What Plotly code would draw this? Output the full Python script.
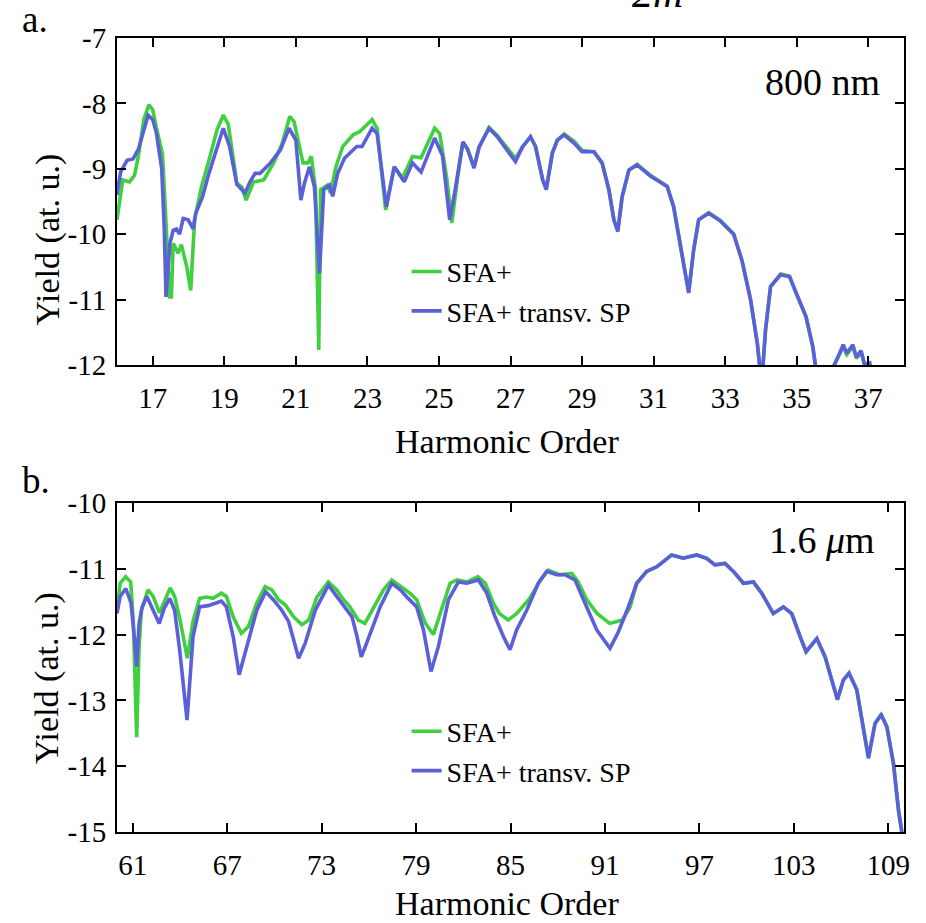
import plotly.graph_objects as go

# ---------------- Panel a: 800 nm ----------------
a_sfa_x = [16.0, 16.08, 16.16, 16.35, 16.49, 16.6, 16.75, 16.89, 17.0, 17.1, 17.27, 17.35, 17.42, 17.47,
           17.52, 17.57, 17.71, 17.8, 17.95, 18.06, 18.17, 18.36, 18.57, 18.8, 18.97, 19.11, 19.35, 19.49,
           19.61, 19.82, 20.1, 20.38, 20.62, 20.83, 20.95, 21.08, 21.2, 21.34, 21.43, 21.55, 21.64, 21.69,
           21.88, 21.97, 22.12, 22.31, 22.6, 22.79, 23.13, 23.27, 23.4, 23.51, 23.75, 23.98, 24.26, 24.5,
           24.88, 25.02, 25.21, 25.36, 25.53, 25.67, 25.8, 25.98, 26.12, 26.4, 26.63, 26.86, 27.14, 27.33,
           27.56, 27.7, 27.9, 28.0, 28.17, 28.31, 28.5, 28.78, 29.0, 29.33, 29.56, 29.75, 29.89, 30.0,
           30.12, 30.31, 30.54, 30.91, 31.38, 31.56, 31.8, 31.98, 32.12, 32.26, 32.54, 32.87, 33.24, 33.47,
           33.71, 33.9, 34.02, 34.13, 34.27, 34.55, 34.8, 34.98, 35.26, 35.45, 35.6, 35.8, 36.05, 36.2,
           36.3, 36.4, 36.57, 36.67, 36.8, 36.9, 37.04, 37.15]
a_sfa_y = [-9.78, -9.45, -9.17, -9.2, -9.1, -8.8, -8.25, -8.02, -8.1, -8.37, -8.77, -9.6, -10.5, -10.96,
           -10.96, -10.14, -10.29, -10.16, -10.5, -10.86, -9.78, -9.28, -8.87, -8.4, -8.18, -8.32, -9.22, -9.28,
           -9.48, -9.2, -9.17, -8.91, -8.61, -8.2, -8.28, -8.61, -8.91, -8.91, -8.81, -9.32, -11.77, -9.32,
           -9.25, -9.37, -8.97, -8.66, -8.48, -8.43, -8.25, -8.38, -9.0, -9.63, -8.97, -9.14, -8.81, -8.83,
           -8.38, -8.46, -9.11, -9.83, -9.1, -8.59, -8.7, -8.97, -8.67, -8.37, -8.49, -8.64, -8.84, -8.67,
           -8.51, -8.66, -9.17, -9.3, -8.76, -8.56, -8.47, -8.58, -8.72, -8.74, -8.91, -9.32, -9.78, -9.94,
           -9.43, -9.02, -8.93, -9.1, -9.27, -9.58, -10.3, -10.88, -10.24, -9.78, -9.67, -9.79, -10.0, -10.4,
           -11.0, -11.67, -12.3, -11.46, -10.8, -10.61, -10.64, -10.9, -11.26, -11.72, -12.3, -12.6, -12.0, -11.84,
           -11.72, -11.84, -11.72, -11.9, -11.8, -12.0, -11.98, -12.4]

a_sp_x = [16.0, 16.1, 16.28, 16.45, 16.6, 16.87, 17.0, 17.1, 17.25, 17.32, 17.37, 17.48, 17.57, 17.66,
          17.75, 17.85, 17.99, 18.13, 18.2, 18.39, 18.57, 18.97, 19.15, 19.35, 19.58, 19.72, 19.86, 20.0,
          20.29, 20.57, 20.81, 21.0, 21.14, 21.24, 21.38, 21.52, 21.66, 21.78, 21.94, 22.03, 22.17, 22.36,
          22.7, 22.85, 23.13, 23.27, 23.53, 23.75, 24.03, 24.26, 24.5, 24.88, 25.1, 25.3, 25.46, 25.67,
          25.8, 25.98, 26.12, 26.4, 26.63, 26.86, 27.14, 27.33, 27.56, 27.7, 27.9, 28.0, 28.17, 28.31,
          28.5, 28.78, 29.0, 29.33, 29.56, 29.75, 29.89, 30.0, 30.12, 30.31, 30.54, 30.91, 31.38, 31.56,
          31.8, 31.98, 32.12, 32.26, 32.54, 32.87, 33.24, 33.47, 33.71, 33.9, 34.02, 34.13, 34.27, 34.55,
          34.8, 34.98, 35.26, 35.45, 35.6, 35.8, 36.05, 36.2, 36.3, 36.4, 36.57, 36.67, 36.8, 36.9,
          37.04, 37.15]
a_sp_y = [-9.4, -9.05, -8.87, -8.85, -8.7, -8.18, -8.25, -8.45, -9.0, -9.9, -10.96, -10.14, -9.94, -9.92,
          -10.0, -9.76, -9.78, -9.92, -9.68, -9.43, -9.07, -8.38, -8.66, -9.24, -9.37, -9.2, -9.07, -9.07,
          -8.91, -8.71, -8.38, -8.56, -9.48, -9.22, -8.97, -9.28, -10.6, -9.32, -9.25, -9.42, -9.07, -8.84,
          -8.66, -8.66, -8.38, -8.46, -9.58, -8.97, -9.2, -8.91, -9.05, -8.53, -8.8, -9.78, -9.3, -8.59,
          -8.7, -8.99, -8.67, -8.38, -8.51, -8.68, -8.89, -8.67, -8.51, -8.66, -9.17, -9.32, -8.76, -8.56,
          -8.48, -8.61, -8.74, -8.74, -8.91, -9.32, -9.78, -9.96, -9.43, -9.02, -8.94, -9.11, -9.27, -9.58,
          -10.3, -10.9, -10.24, -9.78, -9.68, -9.8, -10.0, -10.4, -11.0, -11.67, -12.3, -11.46, -10.8, -10.62,
          -10.65, -10.9, -11.26, -11.72, -12.3, -12.6, -12.0, -11.82, -11.69, -11.82, -11.69, -11.88, -11.78, -12.0,
          -11.97, -12.4]

# ---------------- Panel b: 1.6 um ----------------
b_sfa_x = [60.0, 60.2, 60.55, 60.87, 61.04, 61.25, 61.4, 61.55, 61.97, 62.3, 62.7, 63.0, 63.38, 63.66,
           63.98, 64.47, 64.83, 65.25, 65.68, 66.1, 66.63, 66.95, 67.38, 67.9, 68.35, 68.88, 69.41, 69.84,
           70.26, 70.7, 71.22, 71.75, 72.18, 72.7, 73.43, 73.96, 74.4, 74.8, 75.33, 75.75, 76.3, 76.93,
           77.46, 78.0, 78.6, 79.04, 79.57, 80.1, 80.63, 81.16, 81.6, 82.25, 82.93, 83.4, 83.9, 84.3,
           84.85, 85.4, 86.22, 86.9, 87.4, 88.1, 88.9, 89.3, 89.85, 90.5, 91.3, 92.1, 92.6, 93.02,
           93.65, 94.29, 94.71, 95.24, 95.98, 96.83, 97.46, 97.99, 98.63, 99.16, 99.8, 100.43, 100.96, 101.7,
           102.34, 102.87, 103.4, 103.78, 104.46, 104.99, 105.41, 105.77, 106.15, 106.51, 107.0, 107.42, 107.74, 108.16,
           108.55, 108.91, 109.33, 109.65, 109.86]
b_sfa_y = [-11.63, -11.22, -11.12, -11.2, -11.82, -13.56, -12.2, -11.63, -11.32, -11.42, -11.67, -11.5, -11.29, -11.42,
           -11.75, -12.36, -11.8, -11.45, -11.43, -11.45, -11.37, -11.42, -11.73, -11.98, -11.88, -11.52, -11.27, -11.32,
           -11.47, -11.55, -11.73, -11.85, -11.78, -11.43, -11.2, -11.32, -11.47, -11.58, -11.78, -11.83, -11.58, -11.32,
           -11.17, -11.27, -11.37, -11.47, -11.82, -12.0, -11.62, -11.22, -11.17, -11.2, -11.12, -11.22, -11.52, -11.68,
           -11.78, -11.68, -11.45, -11.17, -11.02, -11.09, -11.07, -11.2, -11.47, -11.68, -11.83, -11.78, -11.58, -11.22,
           -11.04, -10.97, -10.89, -10.79, -10.84, -10.79, -10.84, -10.94, -10.92, -11.04, -11.22, -11.2, -11.37, -11.68,
           -11.58, -11.68, -12.03, -12.26, -12.06, -12.34, -12.69, -12.98, -12.69, -12.58, -12.84, -13.4, -13.86, -13.35,
           -13.21, -13.4, -13.96, -14.67, -15.0]

b_sp_x = [60.0, 60.2, 60.56, 60.89, 61.1, 61.25, 61.4, 61.6, 61.9, 62.3, 62.68, 63.0, 63.35, 63.66,
          63.98, 64.45, 64.83, 65.25, 65.78, 66.3, 66.63, 66.95, 67.38, 67.76, 68.13, 68.88, 69.45, 69.93,
          70.47, 70.9, 71.22, 71.54, 71.96, 72.6, 73.43, 73.96, 74.4, 74.93, 75.25, 75.52, 75.86, 76.72,
          77.46, 78.0, 78.5, 79.04, 79.47, 79.95, 80.42, 81.06, 81.69, 82.22, 82.96, 83.49, 84.02, 84.55,
          84.97, 85.39, 86.03, 86.77, 87.3, 87.93, 88.46, 89.1, 89.84, 90.48, 91.32, 91.85, 92.49, 93.02,
          93.65, 94.29, 94.71, 95.24, 95.98, 96.83, 97.46, 97.99, 98.63, 99.16, 99.8, 100.43, 100.96, 101.7,
          102.34, 102.87, 103.4, 103.78, 104.46, 104.99, 105.41, 105.77, 106.15, 106.51, 107.0, 107.42, 107.74, 108.16,
          108.55, 108.91, 109.33, 109.65, 109.86]
b_sp_y = [-11.68, -11.42, -11.3, -11.52, -12.03, -12.49, -11.83, -11.58, -11.42, -11.63, -11.83, -11.6, -11.45, -11.63,
          -12.23, -13.3, -12.03, -11.58, -11.56, -11.52, -11.49, -11.58, -12.03, -12.61, -12.28, -11.63, -11.35, -11.47,
          -11.63, -11.8, -12.08, -12.36, -12.13, -11.63, -11.25, -11.42, -11.58, -11.73, -12.03, -12.34, -12.13, -11.58,
          -11.22, -11.32, -11.45, -11.58, -11.93, -12.56, -12.18, -11.47, -11.2, -11.22, -11.17, -11.37, -11.73, -12.03,
          -12.23, -11.93, -11.63, -11.22, -11.04, -11.09, -11.09, -11.17, -11.58, -11.93, -12.21, -11.96, -11.58, -11.22,
          -11.04, -10.97, -10.89, -10.79, -10.84, -10.79, -10.84, -10.94, -10.92, -11.04, -11.22, -11.2, -11.37, -11.68,
          -11.58, -11.68, -12.03, -12.26, -12.06, -12.34, -12.69, -12.99, -12.69, -12.59, -12.84, -13.4, -13.88, -13.35,
          -13.22, -13.4, -13.96, -14.67, -15.0]

a_xticks = [17, 19, 21, 23, 25, 27, 29, 31, 33, 35, 37]
a_yticks = [-12, -11, -10, -9, -8, -7]
b_xticks = [61, 67, 73, 79, 85, 91, 97, 103, 109]
b_yticks = [-15, -14, -13, -12, -11, -10]

GREEN = "#3fcf3f"
BLUE = "#5b5fd9"
FONT = "Liberation Serif"
LW = 3.6

fig = go.Figure()
fig.add_trace(go.Scatter(x=a_sfa_x, y=a_sfa_y, mode="lines", name="SFA+",
                         line=dict(color=GREEN, width=LW), xaxis="x", yaxis="y", legend="legend"))
fig.add_trace(go.Scatter(x=a_sp_x, y=a_sp_y, mode="lines", name="SFA+ transv. SP",
                         line=dict(color=BLUE, width=LW), xaxis="x", yaxis="y", legend="legend"))
fig.add_trace(go.Scatter(x=b_sfa_x, y=b_sfa_y, mode="lines", name="SFA+",
                         line=dict(color=GREEN, width=LW), xaxis="x2", yaxis="y2", legend="legend2"))
fig.add_trace(go.Scatter(x=b_sp_x, y=b_sp_y, mode="lines", name="SFA+ transv. SP",
                         line=dict(color=BLUE, width=LW), xaxis="x2", yaxis="y2", legend="legend2"))

common = dict(showline=True, linewidth=2, linecolor="black", mirror="ticks", ticks="inside",
              ticklen=9, tickwidth=2, tickcolor="black", showgrid=False, zeroline=False,
              tickfont=dict(family=FONT, size=29, color="black"))

fig.update_layout(
    width=926, height=923,
    margin=dict(l=117, r=22, t=38, b=91),
    paper_bgcolor="white", plot_bgcolor="white",
    font=dict(family=FONT, color="black"),
    xaxis=dict(domain=[0, 1], range=[16, 38], tickvals=a_xticks, anchor="y",
               ticklabelstandoff=6, **common),
    yaxis=dict(domain=[0.5882, 1], range=[-12, -7], tickvals=a_yticks,
               ticktext=[str(v) for v in a_yticks], anchor="x", ticklabelstandoff=3, **common),
    xaxis2=dict(domain=[0, 1], range=[60, 110], tickvals=b_xticks, anchor="y2",
                ticklabelstandoff=6, **common),
    yaxis2=dict(domain=[0, 0.4144], range=[-15, -10], tickvals=b_yticks,
                ticktext=[str(v) for v in b_yticks], anchor="x2", ticklabelstandoff=3, **common),
    legend=dict(x=0.368, y=0.737, xanchor="left", yanchor="top", bgcolor="rgba(0,0,0,0)",
                font=dict(family=FONT, size=28), itemwidth=30, tracegroupgap=0),
    legend2=dict(x=0.368, y=0.158, xanchor="left", yanchor="top", bgcolor="rgba(0,0,0,0)",
                 font=dict(family=FONT, size=28), itemwidth=30, tracegroupgap=0),
    showlegend=True,
)

ann = [
    dict(text="800 nm", x=0.896, y=0.9446, font=dict(size=38)),
    dict(text="1.6 <i>μ</i>m", x=0.896, y=0.3678, font=dict(size=38)),
    dict(text="a.", x=-0.1233, y=1.0227, xanchor="left", font=dict(size=37)),
    dict(text="b.", x=-0.1233, y=0.4433, xanchor="left", font=dict(size=37)),
    dict(text="Harmonic Order", x=0.4956, y=0.4912, font=dict(size=34)),
    dict(text="Harmonic Order", x=0.4956, y=-0.0895, font=dict(size=34)),
    dict(text="Yield (at. u.)", x=-0.0889, y=0.7462, textangle=-90, font=dict(size=34)),
    dict(text="Yield (at. u.)", x=-0.0889, y=0.1939, textangle=-90, font=dict(size=34)),
    dict(text="<i>2m</i>", x=0.687, y=1.0252, yanchor="bottom", font=dict(size=42)),
]
for a in ann:
    a.setdefault("xanchor", "center")
    a.setdefault("yanchor", "middle")
    a["xref"] = "paper"
    a["yref"] = "paper"
    a["showarrow"] = False
    a["font"] = dict(family=FONT, color="black", **a["font"])
    fig.add_annotation(**a)

fig.write_html("out.html")
